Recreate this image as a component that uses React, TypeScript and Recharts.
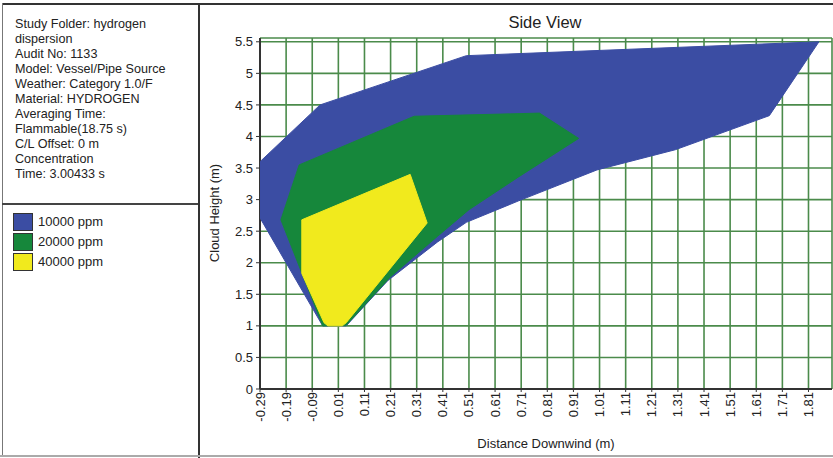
import React from "react";
import { ScatterChart, Scatter, XAxis, YAxis, CartesianGrid, Polygon } from "recharts";

// Report header shown in the left panel
const infoLines = [
  "Study Folder: hydrogen",
  "dispersion",
  "Audit No: 1133",
  "Model: Vessel/Pipe Source",
  "Weather: Category 1.0/F",
  "Material: HYDROGEN",
  "Averaging Time:",
  "Flammable(18.75 s)",
  "C/L Offset: 0 m",
  "Concentration",
  "Time: 3.00433 s",
];

const concentrations = ["10000 ppm", "20000 ppm", "40000 ppm"];
const plumeColors = ["#3b4da3", "#16873b", "#f1ea1d"];

const xTicks = [
  -0.29, -0.19, -0.09, 0.01, 0.11, 0.21, 0.31, 0.41, 0.51, 0.61, 0.71,
  0.81, 0.91, 1.01, 1.11, 1.21, 1.31, 1.41, 1.51, 1.61, 1.71, 1.81,
];
const yTicks = [0, 0.5, 1, 1.5, 2, 2.5, 3, 3.5, 4, 4.5, 5, 5.5];

// Cloud outlines (distance downwind, height), traced around each contour
const cloud10000 = [
  { x: -0.29, y: 3.6 }, { x: -0.06, y: 4.5 }, { x: 0.5, y: 5.28 },
  { x: 1.85, y: 5.5 }, { x: 1.66, y: 4.33 }, { x: 1.3, y: 3.79 },
  { x: 1.0, y: 3.47 }, { x: 0.7, y: 2.98 }, { x: 0.5, y: 2.64 },
  { x: 0.39, y: 2.33 }, { x: 0.2, y: 1.72 }, { x: 0.04, y: 1.0 },
  { x: -0.05, y: 1.0 }, { x: -0.29, y: 2.71 },
];
const cloud20000 = [
  { x: -0.14, y: 3.55 }, { x: 0.3, y: 4.32 }, { x: 0.78, y: 4.37 },
  { x: 0.93, y: 3.97 }, { x: 0.7, y: 3.36 }, { x: 0.51, y: 2.84 },
  { x: 0.39, y: 2.42 }, { x: 0.21, y: 1.78 }, { x: 0.04, y: 1.01 },
  { x: -0.05, y: 1.0 }, { x: -0.21, y: 2.68 },
];
const cloud40000 = [
  { x: -0.13, y: 2.68 }, { x: 0.285, y: 3.4 }, { x: 0.35, y: 2.63 },
  { x: 0.04, y: 1.05 }, { x: 0.025, y: 1.0 }, { x: -0.03, y: 1.0 },
  { x: -0.045, y: 1.05 }, { x: -0.13, y: 1.83 },
];
const clouds = [cloud10000, cloud20000, cloud40000];

const FONT = "'Liberation Sans', Arial, sans-serif";

function DistanceTick({ x, y, payload }: any) {
  return (
    <text
      x={x}
      y={y}
      transform={`rotate(-90, ${x}, ${y})`}
      textAnchor="end"
      dy="0.35em"
      fontSize={13}
      fontFamily={FONT}
      fill="#222"
    >
      {Number(payload.value).toFixed(2)}
    </text>
  );
}

const noPoint = () => <g />;

// fill the outline joining the scatter points
const plumeShape = (color: string) => (props: any) => (
  <Polygon points={props.points} fill={color} stroke={color} strokeWidth={1} />
);

export default function App() {
  return (
    <div
      style={{
        position: "absolute",
        left: 0,
        top: 0,
        width: 833,
        height: 458,
        background: "#fff",
        fontFamily: FONT,
        color: "#222",
        overflow: "hidden",
      }}
    >
      {/* frame lines */}
      <div style={{ position: "absolute", left: 2, top: 3, width: 831, height: 2, background: "#333" }} />
      <div style={{ position: "absolute", left: 2, top: 3, width: 1, height: 453, background: "#777" }} />
      <div style={{ position: "absolute", left: 198, top: 3, width: 2, height: 455, background: "#333" }} />
      <div style={{ position: "absolute", left: 2, top: 203, width: 196, height: 2, background: "#444" }} />
      <div style={{ position: "absolute", left: 0, top: 455, width: 833, height: 2, background: "#aaa" }} />

      {/* info text */}
      <div style={{ position: "absolute", left: 15, top: 17, fontSize: 12.6, lineHeight: "15px" }}>
        {infoLines.map((line) => (
          <div key={line} style={{ whiteSpace: "nowrap" }}>{line}</div>
        ))}
      </div>

      {/* legend */}
      <div style={{ position: "absolute", left: 13, top: 212 }}>
        {concentrations.map((c, i) => (
          <div key={c} style={{ position: "relative", height: 20 }}>
            <div
              style={{
                position: "absolute",
                left: 0,
                top: 1,
                width: 20,
                height: 18,
                boxSizing: "border-box",
                border: "1px solid #333",
                background: plumeColors[i],
              }}
            />
            <div style={{ position: "absolute", left: 25, top: 0, fontSize: 13, lineHeight: "20px", whiteSpace: "nowrap" }}>
              {c}
            </div>
          </div>
        ))}
      </div>

      {/* titles */}
      <div style={{ position: "absolute", left: 445, top: 12, width: 200, textAlign: "center", fontSize: 16.5, lineHeight: "20px" }}>
        Side View
      </div>
      <div style={{ position: "absolute", left: 446, top: 436, width: 200, textAlign: "center", fontSize: 13, lineHeight: "16px" }}>
        Distance Downwind (m)
      </div>
      <div
        style={{
          position: "absolute",
          left: 215,
          top: 213,
          transform: "translate(-50%, -50%) rotate(-90deg)",
          fontSize: 13,
          lineHeight: "16px",
          whiteSpace: "nowrap",
        }}
      >
        Cloud Height (m)
      </div>

      <div style={{ position: "absolute", left: 200, top: 4 }}>
        <ScatterChart width={633} height={452} margin={{ top: 34, right: 1, left: 0, bottom: 0 }}>
          <CartesianGrid stroke="#4b8b4b" strokeWidth={1.6} />
          <XAxis
            type="number"
            dataKey="x"
            domain={[-0.29, 1.9]}
            ticks={xTicks}
            interval={0}
            allowDataOverflow
            height={67}
            tick={<DistanceTick />}
            tickSize={3}
            tickMargin={0}
            tickLine={{ stroke: "#333" }}
            axisLine={{ stroke: "#333", strokeWidth: 2 }}
          />
          <YAxis
            type="number"
            dataKey="y"
            domain={[0, 5.56]}
            ticks={yTicks}
            interval={0}
            allowDataOverflow
            width={60}
            tickSize={4}
            tickMargin={3}
            tick={{ fontSize: 13, fill: "#222", fontFamily: FONT }}
            tickLine={{ stroke: "#333" }}
            axisLine={{ stroke: "#333", strokeWidth: 2 }}
          />
          <XAxis
            xAxisId="frame"
            orientation="top"
            type="number"
            domain={[-0.29, 1.9]}
            height={0}
            tick={false}
            tickLine={false}
            axisLine={{ stroke: "#333", strokeWidth: 2 }}
          />
          <YAxis
            yAxisId="frame"
            orientation="right"
            type="number"
            domain={[0, 5.56]}
            width={0}
            tick={false}
            tickLine={false}
            axisLine={{ stroke: "#333", strokeWidth: 1.5 }}
          />
          {clouds.map((cloud, i) => (
            <Scatter
              key={concentrations[i]}
              name={concentrations[i]}
              data={cloud}
              fill={plumeColors[i]}
              line={plumeShape(plumeColors[i])}
              lineType="joint"
              shape={noPoint}
              legendType="none"
              isAnimationActive={false}
            />
          ))}
        </ScatterChart>
      </div>
    </div>
  );
}
